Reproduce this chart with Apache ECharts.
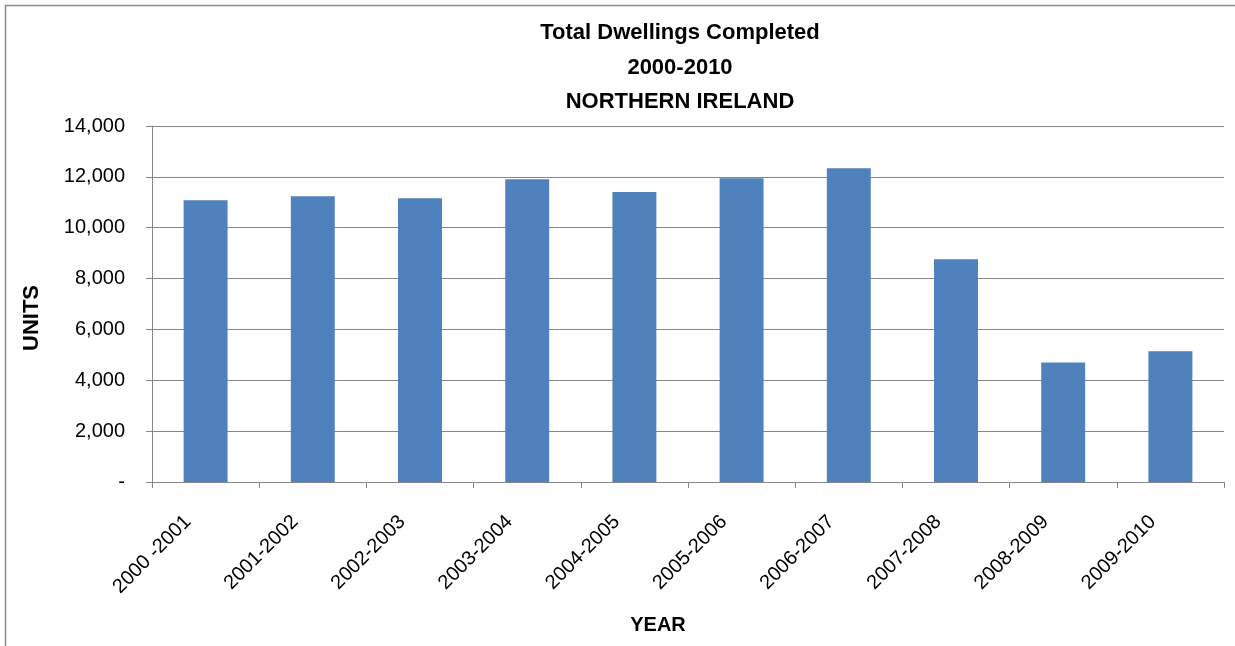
<!DOCTYPE html>
<html>
<head>
<meta charset="utf-8">
<title>Total Dwellings Completed 2000-2010 Northern Ireland</title>
<script src="https://cdn.jsdelivr.net/npm/echarts@6/dist/echarts.min.js"></script>
<style>
  html, body { margin: 0; padding: 0; background: #ffffff; }
  #chart { width: 1235px; height: 646px; }
</style>
</head>
<body>
<div id="chart"></div>
<script>
// Financial years
const years = ['2000 -2001', '2001-2002', '2002-2003', '2003-2004', '2004-2005',
               '2005-2006', '2006-2007', '2007-2008', '2008-2009', '2009-2010'];
// Dwellings completed per year (units)
const dwellings = [11080, 11240, 11160, 11910, 11400, 11950, 12340, 8760, 4700, 5140];
// Value axis ticks
const yTicks = [0, 2000, 4000, 6000, 8000, 10000, 12000, 14000];

const titleLines = ['Total Dwellings Completed', '2000-2010', 'NORTHERN IRELAND'];

const FONT = '"Liberation Sans", Arial, sans-serif';
const AXIS_GREY = '#868686';

const chart = echarts.init(document.getElementById('chart'), null, { renderer: 'canvas' });

chart.setOption({
  animation: false,
  backgroundColor: '#ffffff',
  textStyle: { fontFamily: FONT },
  title: {
    text: titleLines.join('\n'),
    left: 675,
    top: 11,
    textAlign: 'center',
    textStyle: {
      fontFamily: FONT,
      fontSize: 22,
      fontWeight: 'bold',
      color: '#000000',
      lineHeight: 34.5
    }
  },
  grid: { left: 152, right: 11, top: 126, bottom: 164, containLabel: false },
  graphic: [
    {
      type: 'rect',
      shape: { x: 5.5, y: 5.5, width: 1300, height: 700 },
      style: { fill: 'none', stroke: '#8c8c8c', lineWidth: 1.5 },
      silent: true
    },
    {
      type: 'text',
      style: {
        text: 'YEAR', x: 0, y: 0, textAlign: 'center', textVerticalAlign: 'middle',
        fontFamily: FONT, fontSize: 20, fontWeight: 'bold', fill: '#000000'
      },
      x: 658, y: 625
    },
    {
      type: 'text',
      style: {
        text: 'UNITS', x: 0, y: 0, textAlign: 'center', textVerticalAlign: 'middle',
        fontFamily: FONT, fontSize: 22, fontWeight: 'bold', fill: '#000000'
      },
      x: 32, y: 318, rotation: Math.PI / 2
    }
  ],
  xAxis: {
    type: 'category',
    data: years,
    boundaryGap: true,
    axisLine: { show: true, lineStyle: { color: AXIS_GREY, width: 1 } },
    axisTick: { show: true, alignWithLabel: false, length: 6, lineStyle: { color: AXIS_GREY } },
    axisLabel: {
      rotate: 45,
      interval: 0,
      margin: 19,
      padding: [0, 25, 0, 0],
      fontFamily: FONT,
      fontSize: 20,
      color: '#000000'
    },
    splitLine: { show: false }
  },
  yAxis: {
    type: 'value',
    min: yTicks[0],
    max: yTicks[yTicks.length - 1],
    interval: yTicks[1] - yTicks[0],
    axisLine: { show: true, lineStyle: { color: AXIS_GREY, width: 1 } },
    axisTick: { show: true, length: 6, lineStyle: { color: AXIS_GREY } },
    axisLabel: {
      margin: 27,
      fontFamily: FONT,
      fontSize: 20,
      color: '#000000',
      formatter: function (v) {
        return v === 0 ? '-' : v.toLocaleString('en-GB');
      }
    },
    splitLine: { show: true, lineStyle: { color: AXIS_GREY, width: 1 } }
  },
  series: [
    {
      type: 'bar',
      data: dwellings,
      barWidth: '41%',
      itemStyle: { color: '#4f81bd' }
    }
  ]
});
</script>
</body>
</html>
